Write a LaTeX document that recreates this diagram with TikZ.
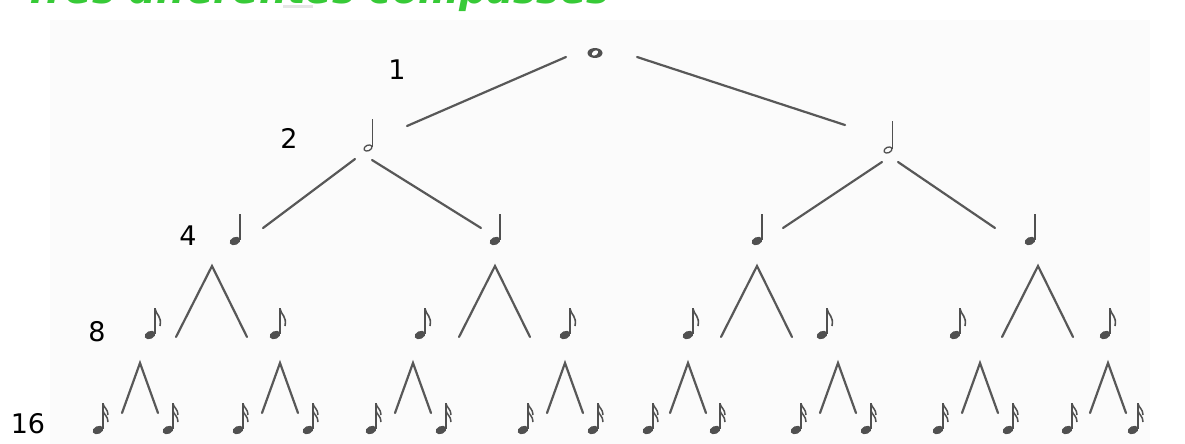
\documentclass[tikz,border=0pt]{standalone}
\usepackage{fontspec}
\setmainfont{DejaVu Sans}
\definecolor{ink}{RGB}{80,80,80}
\definecolor{branch}{RGB}{88,88,88}
\definecolor{headline}{RGB}{55,202,55}
\definecolor{sheet}{RGB}{251,251,251}

\tikzset{
  notept/.style={inner sep=0pt, minimum size=0pt},
  branchline/.style={draw=branch, line width=2.2pt, line cap=round},
  levellabel/.style={font=\fontsize{27}{27}\selectfont, text=black},
  % note glyphs, origin at the centre of the note head
  wholenote/.pic={
    \fill[ink] (0,0) ellipse (7.5 and 5);
    \fill[white, rotate=-55] (0,0) ellipse (2.2 and 3.4);
  },
  halfnote/.pic={
    \draw[ink, line width=1.3pt, rotate=25] (0,0) ellipse (4.2 and 2.8);
    \draw[ink, line width=1.1pt] (4.3,-1.5) -- (4.3,-29);
  },
  quarternote/.pic={
    \fill[ink, rotate=25] (0,0) ellipse (5.6 and 3.9);
    \draw[ink, line width=1.4pt] (4.9,-1.5) -- (4.9,-27);
  },
  eighthnote/.pic={
    \fill[ink, rotate=25] (0,0) ellipse (5.6 and 3.9);
    \draw[ink, line width=1.4pt] (4.9,-1.5) -- (4.9,-27);
    \draw[ink, line width=1.6pt] (4.9,-26.5) .. controls (6,-20) and (12,-19) .. (10,-9);
  },
  sixteenthnote/.pic={
    \fill[ink, rotate=25] (0,0) ellipse (5.6 and 3.9);
    \draw[ink, line width=1.4pt] (4.9,-1.5) -- (4.9,-27);
    \draw[ink, line width=1.5pt] (4.9,-26.5) .. controls (6,-22) and (10,-21) .. (10,-15);
    \draw[ink, line width=1.5pt] (4.9,-19.5) .. controls (6,-15) and (10,-14) .. (10,-8);
  },
}

\begin{document}
\begin{tikzpicture}[x=1pt, y=-1pt]
\useasboundingbox (0,0) rectangle (1185,444);
\fill[white] (0,0) rectangle (1185,444);
\fill[sheet] (50,20) rectangle (1150,444);

% heading, running off the top edge
\node[anchor=base west, inner sep=0pt, text=headline,
      font=\fontsize{39}{39}\selectfont\bfseries\itshape] (title) at (24,4)
  {Tres diferentes compasses};
\fill[black!10] (283,5) rectangle (313,8);

% level numbers
\node[levellabel] (n1)  at (397,70)  {1};
\node[levellabel] (n2)  at (289,138) {2};
\node[levellabel] (n4)  at (188,236) {4};
\node[levellabel] (n8)  at (97,332)  {8};
\node[levellabel] (n16) at (28,424)  {16};

% whole note
\node[notept] (w) at (595,53) {};
\pic at (w) {wholenote};

% half notes
\foreach \x/\y [count=\i] in {368/148, 888/150} {
  \node[notept] (h\i) at (\x,\y) {};
  \pic at (h\i) {halfnote};
}

% quarter notes
\foreach \x [count=\i] in {235, 495, 757, 1030} {
  \node[notept] (q\i) at (\x,241) {};
  \pic at (q\i) {quarternote};
}

% eighth notes
\foreach \x [count=\i] in {150, 275, 420, 565, 688, 822, 955, 1105} {
  \node[notept] (e\i) at (\x,335) {};
  \pic at (e\i) {eighthnote};
}

% sixteenth notes
\foreach \x [count=\i] in {98, 168, 238, 308, 371, 441, 523, 593,
                           648, 715, 796, 866, 938, 1008, 1067, 1133} {
  \node[notept] (s\i) at (\x,430) {};
  \pic at (s\i) {sixteenthnote};
}

% branches from the whole note to the half notes
\coordinate (wl) at (566,57);   \coordinate (wlb) at (407,126);
\coordinate (wr) at (637,57);   \coordinate (wrb) at (845,125);
\draw[branchline] (wl) -- (wlb);
\draw[branchline] (wr) -- (wrb);

% branches from the half notes to the quarter notes
\coordinate (h1l) at (355,159); \coordinate (h1lb) at (263,228);
\coordinate (h1r) at (372,160); \coordinate (h1rb) at (481,228);
\coordinate (h2l) at (882,162); \coordinate (h2lb) at (783,228);
\coordinate (h2r) at (898,162); \coordinate (h2rb) at (995,228);
\draw[branchline] (h1l) -- (h1lb);
\draw[branchline] (h1r) -- (h1rb);
\draw[branchline] (h2l) -- (h2lb);
\draw[branchline] (h2r) -- (h2rb);

% carets from the quarter notes to the eighth notes
\foreach \ax [count=\i] in {212, 495, 757, 1038} {
  \coordinate (qa\i) at (\ax,266);
  \coordinate (ql\i) at (\ax-36,337);
  \coordinate (qr\i) at (\ax+35,337);
  \draw[branchline, line join=miter] (ql\i) -- (qa\i) -- (qr\i);
}

% carets from the eighth notes to the sixteenth notes
\foreach \ax [count=\i] in {140, 280, 413, 565, 688, 838, 980, 1108} {
  \coordinate (ea\i) at (\ax,363);
  \coordinate (el\i) at (\ax-18,413);
  \coordinate (er\i) at (\ax+18,413);
  \draw[branchline, line join=miter] (el\i) -- (ea\i) -- (er\i);
}
\end{tikzpicture}
\end{document}
